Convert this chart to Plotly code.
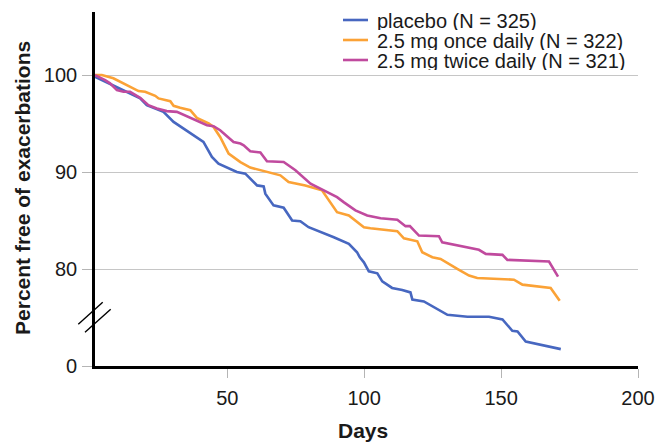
import plotly.graph_objects as go

# Kaplan-Meier style curves: days vs. percent free of exacerbations
placebo_days = [1.7, 5.4, 7.2, 12.1, 18.2, 20.6, 26.7, 30.4, 36.5, 41.3, 44.4, 46.8, 53.5, 56.6,
                60.9, 63.3, 63.9, 66.9, 70.6, 73.7, 76.7, 79.7, 88.9, 94.4, 97.4, 98.4, 99.9,
                101.7, 104.8, 106.6, 110.2, 113.9, 116.9, 117.6, 121.8, 130.4, 137.7, 145.6,
                150.5, 154.1, 156.0, 159.0, 171.8]
placebo_pct = [99.82, 99.31, 99.14, 98.45, 97.59, 96.90, 96.20, 95.17, 93.97, 93.10, 91.55, 90.87,
               90.00, 89.83, 88.62, 88.52, 87.77, 86.56, 86.32, 85.01, 84.93, 84.31, 83.28, 82.60,
               81.73, 81.21, 80.69, 79.76, 79.56, 78.73, 78.05, 77.84, 77.59, 76.84, 76.66, 75.28,
               75.08, 75.08, 74.80, 73.63, 73.56, 72.52, 71.74]

once_days = [1.7, 4.2, 8.4, 12.1, 15.7, 17.6, 20.0, 23.7, 24.9, 29.2, 30.4, 32.8, 36.5, 38.9, 43.2,
             45.0, 47.4, 50.5, 54.8, 58.4, 69.4, 72.4, 78.5, 84.6, 90.1, 94.4, 99.9, 102.3, 112.1,
             114.5, 119.4, 121.2, 124.9, 127.9, 134.0, 138.3, 141.3, 154.7, 157.8, 168.1, 171.4]
once_pct = [100.0, 100.0, 99.66, 99.14, 98.55, 98.35, 98.27, 97.86, 97.59, 97.31, 96.83, 96.62,
            96.38, 95.58, 95.01, 94.65, 93.62, 91.90, 91.03, 90.46, 89.66, 88.97, 88.62, 88.11,
            85.86, 85.52, 84.31, 84.21, 83.90, 83.17, 82.86, 81.73, 81.21, 81.04, 80.01, 79.32,
            79.08, 78.90, 78.39, 78.05, 76.73]

twice_days = [1.7, 5.4, 7.2, 9.7, 12.1, 14.5, 18.2, 21.2, 24.3, 27.9, 31.6, 36.5, 42.6, 45.0, 47.4,
              52.3, 54.8, 56.0, 58.4, 62.1, 64.5, 70.6, 74.9, 80.4, 84.0, 90.1, 92.5, 96.8, 101.1,
              106.0, 112.1, 115.1, 116.7, 120.0, 127.3, 128.5, 141.9, 144.4, 150.5, 152.3, 167.5,
              170.8]
twice_pct = [100.0, 99.48, 99.14, 98.45, 98.27, 98.27, 97.65, 96.90, 96.56, 96.28, 96.20, 95.58,
             94.83, 94.73, 94.31, 93.10, 92.94, 92.76, 92.14, 92.01, 91.11, 91.03, 90.18, 88.80,
             88.28, 87.41, 86.90, 86.04, 85.52, 85.24, 85.08, 84.42, 84.42, 83.45, 83.38, 82.76,
             81.98, 81.56, 81.46, 80.94, 80.77, 79.21]

series_names = ["placebo (N = 325)", "2.5 mg once daily (N = 322)", "2.5 mg twice daily (N = 321)"]
series_colors = ["#4767c0", "#fba236", "#c04a9e"]

# y axis is broken: the bottom of the axis (value 70) is labelled "0"
y_tickvals = [70, 80, 90, 100]
y_ticktext = ["0", "80", "90", "100"]
x_tickvals = [50, 100, 150, 200]

x_title = "Days"
y_title = "Percent free of exacerbations"

FONT = "Liberation Sans, Arial, Helvetica, sans-serif"

fig = go.Figure()
for xs, ys, name, color in zip([placebo_days, once_days, twice_days],
                               [placebo_pct, once_pct, twice_pct],
                               series_names, series_colors):
    fig.add_trace(go.Scatter(x=xs, y=ys, mode="lines", name=name,
                             line=dict(color=color, width=2.6), showlegend=False))

# hand-built legend (tight row spacing)
row_y = [0.9774, 0.9209, 0.8644]
for name, color, yy in zip(series_names, series_colors, row_y):
    fig.add_shape(type="line", xref="paper", yref="paper", x0=0.4567, x1=0.5028, y0=yy, y1=yy,
                  line=dict(color=color, width=2.6))
    fig.add_annotation(xref="paper", yref="paper", x=0.5175, y=yy, text=name, showarrow=False,
                       xanchor="left", yanchor="middle", height=19, borderpad=0,
                       font=dict(size=20, color="#1a1a1a", family=FONT))

# axis titles
fig.add_annotation(xref="paper", yref="paper", x=0.4936, y=-0.1836, text=f"<b>{x_title}</b>",
                   showarrow=False, xanchor="center", yanchor="middle",
                   font=dict(size=21, color="#1a1a1a", family=FONT))
fig.add_annotation(xref="paper", yref="paper", x=-0.1326, y=0.503, text=f"<b>{y_title}</b>",
                   showarrow=False, xanchor="center", yanchor="middle", textangle=-90,
                   font=dict(size=21, color="#1a1a1a", family=FONT))

# axis break marks
for x0, y0, x1, y1 in [(-0.0308, 0.1178, 0.0142, 0.1799), (-0.0184, 0.0952, 0.0289, 0.1602)]:
    fig.add_shape(type="line", xref="paper", yref="paper", x0=x0, y0=y0, x1=x1, y1=y1,
                  line=dict(color="black", width=1.4))

fig.update_layout(
    width=667, height=444,
    margin=dict(l=95, r=29, t=12, b=78),
    paper_bgcolor="white", plot_bgcolor="white",
    font=dict(family=FONT, size=20, color="#1a1a1a"),
)
fig.update_xaxes(
    range=[1.7, 200], tickvals=x_tickvals, showgrid=False, zeroline=False, automargin=False,
    showline=True, linecolor="black", linewidth=2.6,
    ticks="outside", ticklen=9, tickcolor="#b5b5b5", tickwidth=1.2,
    ticklabelstandoff=3, tickfont=dict(size=20, color="#1a1a1a"),
)
fig.update_yaxes(
    range=[70, 106.5], tickvals=y_tickvals, ticktext=y_ticktext, automargin=False,
    showgrid=True, gridcolor="#c6c6c6", gridwidth=1.3, zeroline=False,
    showline=True, linecolor="black", linewidth=2.6,
    ticks="outside", ticklen=10, tickcolor="#b5b5b5", tickwidth=1.2,
    ticklabelstandoff=1, tickfont=dict(size=20, color="#1a1a1a"),
)

fig.write_html("out.html")
